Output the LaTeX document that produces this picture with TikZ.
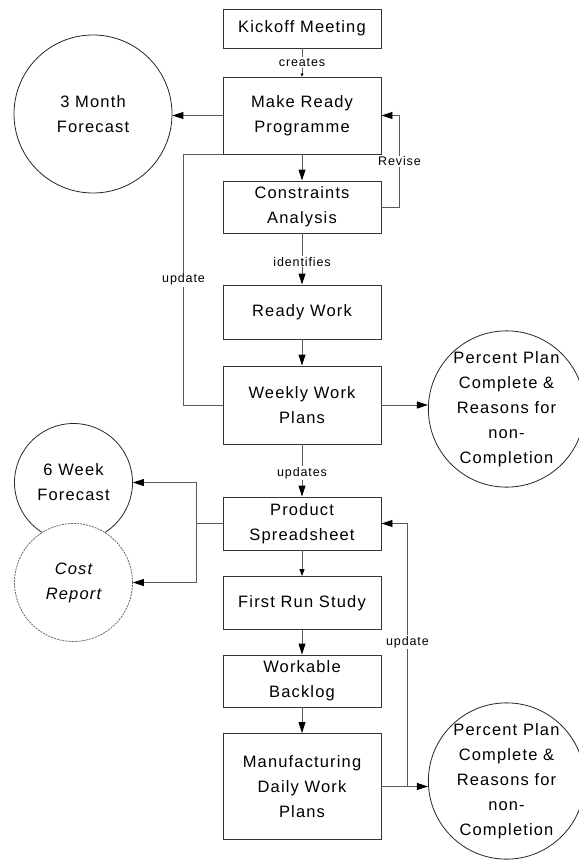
\documentclass[tikz,border=0pt]{standalone}
\usepackage{fontspec}
\setmainfont{Liberation Sans}[LetterSpace=7]
\usetikzlibrary{arrows.meta}
\begin{document}
\begin{tikzpicture}[x=1pt,y=-1pt,
  box/.style={draw=black!80,line width=0.9pt,minimum width=158pt,inner sep=0pt,
    align=center,font=\fontsize{16.5}{25}\selectfont},
  bubble/.style={draw=black!85,line width=0.8pt,circle,inner sep=0pt,align=center,
    fill=white,font=\fontsize{16.5}{25}\selectfont},
  lbl/.style={fill=white,inner sep=1pt,font=\fontsize{12.5}{14}\selectfont},
  line/.style={draw=black!65,line width=0.9pt},
  arr/.style={line,-{Triangle[length=11pt,width=7pt,color=black]}},
  tiny/.style={line,-{Triangle[length=7pt,width=5pt,color=black]}}]
\useasboundingbox (0,0) rectangle (578,864);

\node[box,minimum height=39pt] (kickoff) at (302,28.5) {Kickoff Meeting};
\node[box,minimum height=77pt] (mrp) at (302,115.5) {Make Ready\\Programme};
\node[box,minimum height=52pt] (ca) at (302,207) {Constraints\\Analysis};
\node[box,minimum height=54pt] (rw) at (302,312) {Ready Work};
\node[box,minimum height=78pt] (wwp) at (302,405) {Weekly Work\\Plans};
\node[box,minimum height=53pt] (ps) at (302,523.5) {Product\\Spreadsheet};
\node[box,minimum height=53pt] (frs) at (302,603) {First Run Study};
\node[box,minimum height=52pt] (wb) at (302,681) {Workable\\Backlog};
\node[box,minimum height=106pt] (mdwp) at (302,786.5) {Manufacturing\\Daily Work\\Plans};

\node[bubble,minimum size=158pt] (fc3) at (93,114) {3 Month\\Forecast};
\node[bubble,minimum size=148pt] (ppc1) at (506.5,409) {Percent Plan\\Complete \&\\Reasons for\\non-\\Completion};
\node[bubble,minimum size=148pt] (ppc2) at (506.5,781) {Percent Plan\\Complete \&\\Reasons for\\non-\\Completion};
\node[bubble,minimum size=118pt] (fc6) at (73.5,482.5) {6 Week\\Forecast};
\node[bubble,minimum size=118pt,draw=black!60,dash pattern=on 2pt off 1pt,
  font=\fontsize{16.5}{25}\selectfont\itshape] (cost) at (73.5,582.5) {Cost\\Report};

% main flow
\path[line,-{Triangle[length=3pt,width=3pt,color=black]}] (kickoff) -- (mrp) node[midway,lbl] {creates};
\path[arr] (mrp) -- (ca);
\path[arr] (ca) -- (rw) node[pos=0.55,lbl] {identifies};
\path[arr] (rw) -- (wwp);
\path[arr] (wwp) -- (ps) node[pos=0.55,lbl] {updates};
\path[tiny] (ps) -- (frs);
\path[arr] (frs) -- (wb);
\path[arr] (wb) -- (mdwp);

% outputs
\path[arr] (mrp.west) -- (mrp.west -| fc3.east);
\path[arr] (wwp.east) -- (wwp.east -| ppc1.west);
\path[arr] (mdwp.east) -- (mdwp.east -| ppc2.west);
\path[line] (ps.west) -- ++(-26,0) coordinate (b1);
\path[arr] (b1) |- (fc6.east);
\path[arr] (b1) |- (cost.east);

% feedback loops
\path[arr] (ca.east) -- ++(18,0) coordinate (r1) -- (r1 |- mrp.east)
  node[pos=0.5,lbl] {Revise} -- (mrp.east);
\path[line] (wwp.west) -- ++(-39,0) coordinate (u1) -- (u1 |- mrp.south)
  node[pos=0.5,lbl] {update} -- (mrp.south west);
\path[arr] (mdwp.east) -- ++(26,0) coordinate (u2) -- (u2 |- ps.east)
  node[pos=0.55,lbl] {update} -- (ps.east);
\end{tikzpicture}
\end{document}
